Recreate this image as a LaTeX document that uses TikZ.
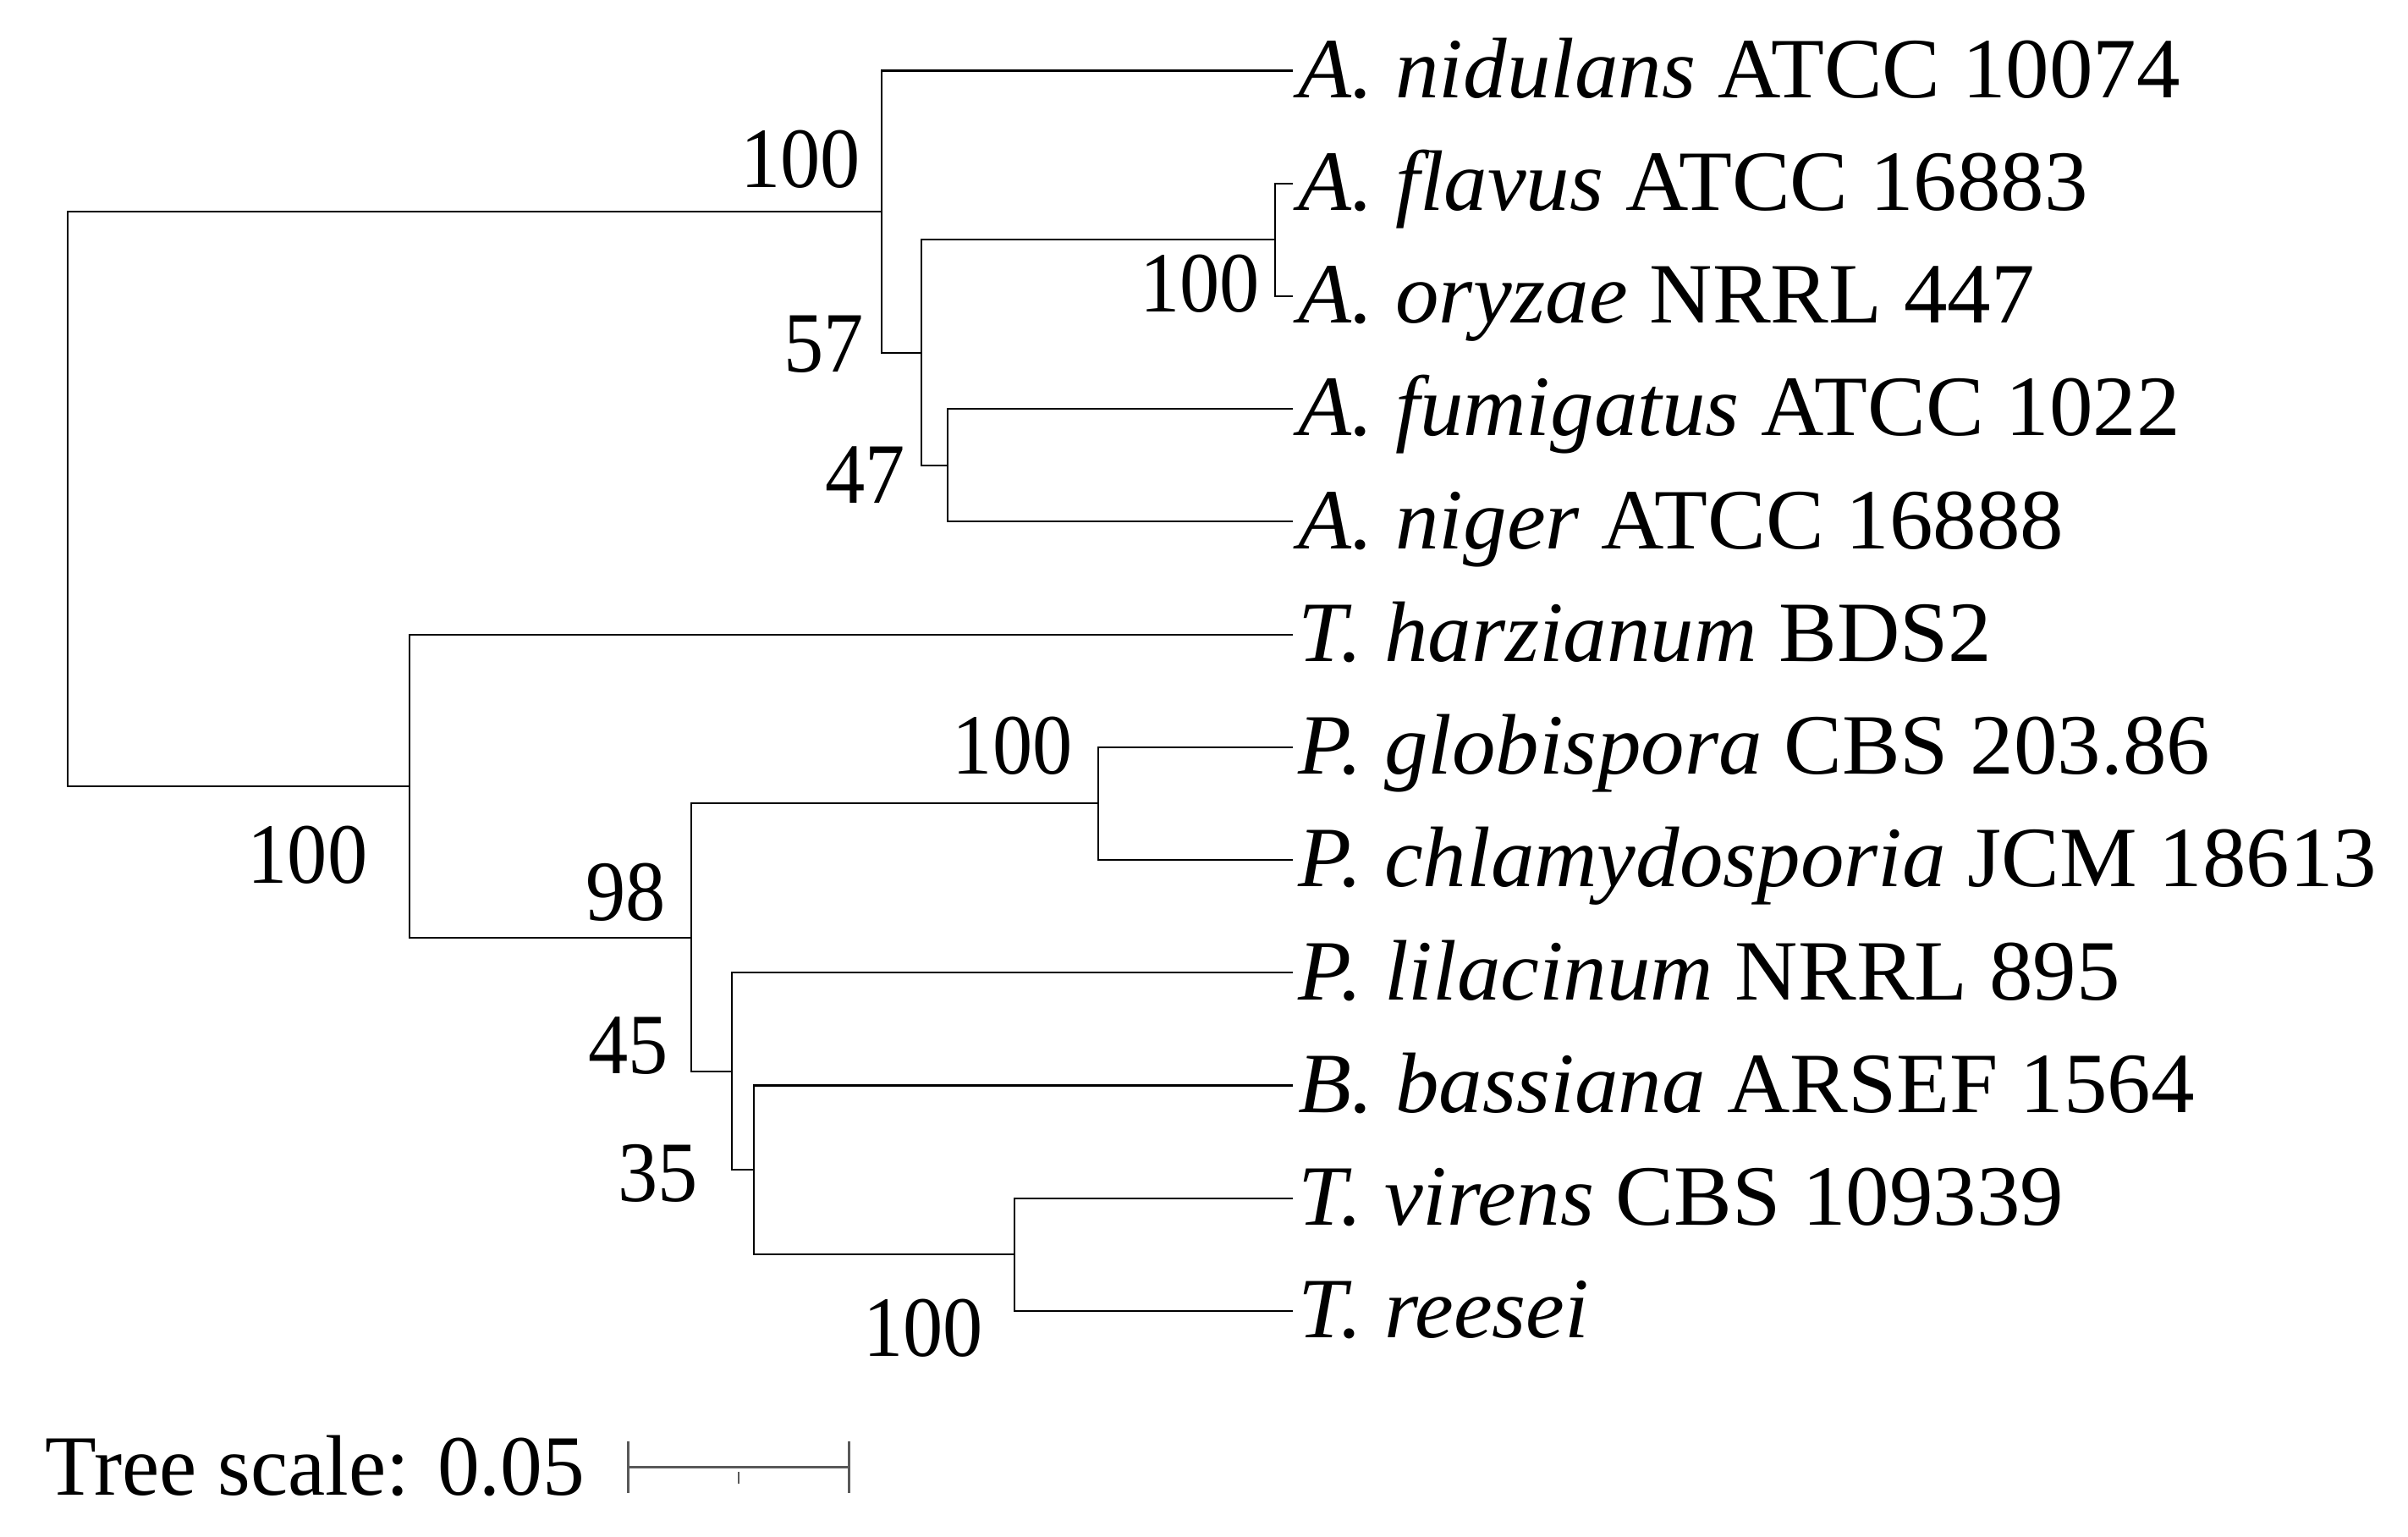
\documentclass[tikz,border=0pt]{standalone}
\usepackage{fontspec}
\setmainfont{Liberation Serif}
\newfontfamily\leaffont[FakeStretch=1.015]{Liberation Serif}
\newfontfamily\bootfont[FakeStretch=0.93]{Liberation Serif}
\newfontfamily\scalefont[FakeStretch=0.98]{Liberation Serif}
\begin{document}
\begin{tikzpicture}[x=0.01cm,y=-0.01cm,
  br/.style={line width=0.32pt,black},
  lab/.style={font=\leaffont\fontsize{15.9pt}{19pt}\selectfont,inner sep=0pt,anchor=base west},
  boot/.style={font=\bootfont\fontsize{15.9pt}{19pt}\selectfont,inner sep=0pt,anchor=base east},
  sbar/.style={line width=0.45pt,draw=black!65}]
\useasboundingbox (0,0) rectangle (1568,1000.5);
% leaf tips
\def\tipx{841.6}
\coordinate (L1) at (\tipx,46);
\coordinate (L2) at (\tipx,119.4);
\coordinate (L3) at (\tipx,192.8);
\coordinate (L4) at (\tipx,266.2);
\coordinate (L5) at (\tipx,339.6);
\coordinate (L6) at (\tipx,413);
\coordinate (L7) at (\tipx,486.4);
\coordinate (L8) at (\tipx,559.8);
\coordinate (L9) at (\tipx,633.2);
\coordinate (L10) at (\tipx,706.6);
\coordinate (L11) at (\tipx,780);
\coordinate (L12) at (\tipx,853.4);
% internal nodes
\coordinate (flav) at (830.4,156.1);
\coordinate (n47) at (617.3,302.9);
\coordinate (n57) at (600,229.5);
\coordinate (asp) at (574,137.75);
\coordinate (glob) at (715.1,523.1);
\coordinate (trich) at (660.6,816.7);
\coordinate (n35) at (490.8,761.65);
\coordinate (n45) at (476.8,697.4);
\coordinate (n98) at (450.3,610.25);
\coordinate (low) at (266.5,511.6);
\coordinate (root) at (43.9,324.7);
% branches
\draw[br] (root) |- (asp);
\draw[br] (root) |- (low);
\draw[br] (asp) |- (L1);
\draw[br] (asp) |- (n57);
\draw[br] (n57) |- (flav);
\draw[br] (n57) |- (n47);
\draw[br] (flav) |- (L2);
\draw[br] (flav) |- (L3);
\draw[br] (n47) |- (L4);
\draw[br] (n47) |- (L5);
\draw[br] (low) |- (L6);
\draw[br] (low) |- (n98);
\draw[br] (n98) |- (glob);
\draw[br] (n98) |- (n45);
\draw[br] (glob) |- (L7);
\draw[br] (glob) |- (L8);
\draw[br] (n45) |- (L9);
\draw[br] (n45) |- (n35);
\draw[br] (n35) |- (L10);
\draw[br] (n35) |- (trich);
\draw[br] (trich) |- (L11);
\draw[br] (trich) |- (L12);
% leaf labels
\node[lab] (t1) at (845,63.5) {\textit{A. nidulans} ATCC 10074};
\node[lab] (t2) at (845,136.9) {\textit{A. flavus} ATCC 16883};
\node[lab] (t3) at (845,210.3) {\textit{A. oryzae} NRRL 447};
\node[lab] (t4) at (845,283.7) {\textit{A. fumigatus} ATCC 1022};
\node[lab] (t5) at (845,357.1) {\textit{A. niger} ATCC 16888};
\node[lab] (t6) at (845,430.5) {\textit{T. harzianum} BDS2};
\node[lab] (t7) at (845,503.9) {\textit{P. globispora} CBS 203.86};
\node[lab] (t8) at (845,577.3) {\textit{P. chlamydosporia} JCM 18613};
\node[lab] (t9) at (845,650.7) {\textit{P. lilacinum} NRRL 895};
\node[lab] (t10) at (845,724.1) {\textit{B. bassiana} ARSEF 1564};
\node[lab] (t11) at (845,797.5) {\textit{T. virens} CBS 109339};
\node[lab] (t12) at (845,870.9) {\textit{T. reesei}};
% bootstrap values
\node[boot] (b1) at (561,122) {100};
\node[boot] (b2) at (821,203) {100};
\node[boot] (b3) at (563,242) {57};
\node[boot] (b4) at (590,327.5) {47};
\node[boot] (b5) at (699,504) {100};
\node[boot] (b6) at (240,575) {100};
\node[boot] (b7) at (434,599) {98};
\node[boot] (b8) at (436,699) {45};
\node[boot] (b9) at (455,782) {35};
\node[boot] (b10) at (641,883) {100};
% scale
\node[font=\scalefont\fontsize{15.9pt}{19pt}\selectfont,inner sep=0pt,anchor=base west] (ts) at (29,973) {Tree scale: 0.05};
\coordinate (s1) at (409,955);
\coordinate (s2) at (553,955);
\coordinate (sm) at (481,955);
\draw[sbar] (s1) -- (s2);
\draw[sbar] ([shift={(0,-17)}]s1) -- ([shift={(0,17)}]s1);
\draw[sbar] ([shift={(0,-17)}]s2) -- ([shift={(0,17)}]s2);
\draw[sbar] ([shift={(0,3)}]sm) -- ([shift={(0,11)}]sm);
\end{tikzpicture}
\end{document}
